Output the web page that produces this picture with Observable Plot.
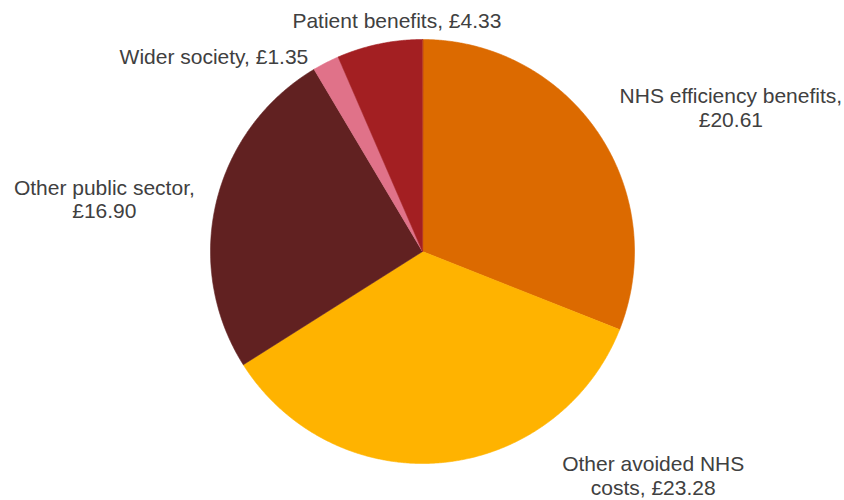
<!DOCTYPE html>
<html>
<head>
<meta charset="utf-8">
<script src="https://cdn.jsdelivr.net/npm/d3@7"></script>
<script src="https://cdn.jsdelivr.net/npm/@observablehq/plot@0.6"></script>
<style>
  html, body { margin: 0; padding: 0; background: #fff; }
  #chart svg { display: block; }
</style>
</head>
<body>
<div id="chart"></div>
<script>
// ---- data ----
const categories = ["NHS efficiency benefits", "Other avoided NHS costs", "Other public sector", "Wider society", "Patient benefits"];
const values = [20.61, 23.28, 16.90, 1.35, 4.33];
const labels = ["NHS efficiency benefits,\n£20.61", "Other avoided NHS\ncosts, £23.28", "Other public sector,\n£16.90", "Wider society, £1.35", "Patient benefits, £4.33"];

// ---- styles / layout ----
const colors = ["#DC6A00", "#FFB300", "#612121", "#E07289", "#A31F22"];
const labelOffsetX = [133, 211, -112, -112, 17.5];   // pixels from slice mid-point on rim
const labelOffsetY = [-25, 13, -3, -6, -23.5];
const W = 844, H = 500, R = 212, CX = 422, CY = 251;

const arcs = d3.pie().sort(null).value(d => d)(values);

const pts = [];
arcs.forEach((a, i) => {
  pts.push({cat: categories[i], x: 0, y: 0});
  const n = Math.max(2, Math.ceil((a.endAngle - a.startAngle) / 0.005));
  for (let k = 0; k <= n; k++) {
    const t = a.startAngle + (a.endAngle - a.startAngle) * k / n;
    pts.push({cat: categories[i], x: Math.sin(t), y: Math.cos(t)});
  }
});

const labelData = arcs.map((a, i) => {
  const m = (a.startAngle + a.endAngle) / 2;
  return {
    text: labels[i],
    x: Math.sin(m) + labelOffsetX[i] / R,
    y: Math.cos(m) - labelOffsetY[i] / R
  };
});

const chart = Plot.plot({
  width: W,
  height: H,
  margin: 0,
  x: {domain: [-CX / R, (W - CX) / R], axis: null},
  y: {domain: [-(H - CY) / R, CY / R], axis: null},
  color: {domain: categories, range: colors},
  style: {fontFamily: "'Liberation Sans', Arial, sans-serif", background: "#fff"},
  marks: [
    Plot.line(pts, {x: "x", y: "y", z: "cat", fill: "cat", stroke: "cat", strokeWidth: 0.6, curve: "linear-closed"}),
    Plot.text(labelData, {x: "x", y: "y", text: "text", fontSize: 21, fill: "#404040", textAnchor: "middle", lineAnchor: "middle", lineHeight: 1.114})
  ]
});
document.getElementById("chart").appendChild(chart);
</script>
</body>
</html>
